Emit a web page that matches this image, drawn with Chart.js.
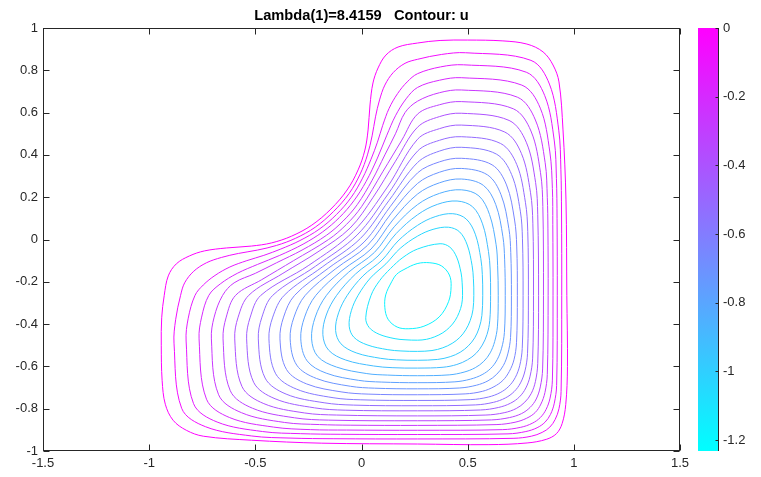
<!DOCTYPE html>
<html><head><meta charset="utf-8">
<script src="https://cdn.jsdelivr.net/npm/chart.js@4.4.0/dist/chart.umd.min.js"></script>
<style>
html,body{margin:0;padding:0;background:#fff;}
#wrap{position:relative;width:761px;height:477px;overflow:hidden;}
#main{position:absolute;left:0;top:0;}
#cb{position:absolute;left:671px;top:0;}
</style></head><body>
<div id="wrap"><canvas id="main" width="761" height="477"></canvas><canvas id="cb" width="90" height="477"></canvas></div>
<script>
const titleText = 'Lambda(1)=8.4159   Contour: u';
const xTickValues = [-1.5,-1,-0.5,0,0.5,1,1.5];
const xTickLabels = ['-1.5','-1','-0.5','0','0.5','1','1.5'];
const yTickValues = [-1,-0.8,-0.6,-0.4,-0.2,0,0.2,0.4,0.6,0.8,1];
const yTickLabels = ['-1','-0.8','-0.6','-0.4','-0.2','0','0.2','0.4','0.6','0.8','1'];
const cbTickValues = [0,-0.2,-0.4,-0.6,-0.8,-1,-1.2];
const cbTickLabels = ['0','-0.2','-0.4','-0.6','-0.8','-1','-1.2'];
const uMin = -1.232, uMax = 0;
const levels = [-1.167,-1.102,-1.037,-0.973,-0.908,-0.843,-0.778,-0.713,-0.648,-0.584,-0.519,-0.454,-0.389,-0.324,-0.259,-0.195,-0.130,-0.065,0];

const c01 = [[0.422,-0.223],[0.410,-0.294],[0.366,-0.366],[0.294,-0.410],[0.223,-0.422],[0.168,-0.414],[0.125,-0.377],[0.110,-0.322],[0.114,-0.262],[0.142,-0.200],[0.165,-0.165],[0.200,-0.142],[0.262,-0.114],[0.322,-0.110],[0.377,-0.125],[0.414,-0.168]];
const c02 = [[0.476,-0.264],[0.472,-0.306],[0.460,-0.345],[0.441,-0.383],[0.415,-0.415],[0.383,-0.441],[0.345,-0.460],[0.306,-0.472],[0.264,-0.476],[0.205,-0.474],[0.158,-0.469],[0.083,-0.448],[0.036,-0.416],[0.020,-0.370],[0.045,-0.264],[0.085,-0.195],[0.137,-0.137],[0.195,-0.085],[0.264,-0.045],[0.370,-0.020],[0.416,-0.036],[0.448,-0.083],[0.469,-0.158],[0.474,-0.205]];
const c03 = [[0.529,-0.264],[0.525,-0.332],[0.512,-0.383],[0.491,-0.427],[0.463,-0.463],[0.427,-0.491],[0.383,-0.512],[0.332,-0.525],[0.264,-0.529],[0.186,-0.527],[0.124,-0.521],[0.026,-0.498],[-0.036,-0.462],[-0.058,-0.410],[-0.048,-0.337],[-0.016,-0.264],[0.042,-0.182],[0.115,-0.115],[0.182,-0.042],[0.264,0.016],[0.337,0.048],[0.410,0.058],[0.462,0.036],[0.498,-0.026],[0.521,-0.124],[0.527,-0.186]];
const c04 = [[0.571,-0.264],[0.567,-0.359],[0.554,-0.418],[0.533,-0.465],[0.503,-0.503],[0.465,-0.533],[0.418,-0.554],[0.359,-0.567],[0.264,-0.571],[0.165,-0.569],[0.091,-0.562],[-0.025,-0.536],[-0.097,-0.493],[-0.122,-0.430],[-0.108,-0.347],[-0.067,-0.264],[0.007,-0.172],[0.097,-0.097],[0.172,-0.007],[0.264,0.067],[0.347,0.108],[0.430,0.122],[0.493,0.097],[0.536,0.025],[0.562,-0.091],[0.569,-0.165]];
const c05 = [[0.608,-0.264],[0.604,-0.384],[0.591,-0.449],[0.569,-0.499],[0.539,-0.539],[0.499,-0.569],[0.449,-0.591],[0.384,-0.604],[0.264,-0.608],[0.144,-0.606],[0.057,-0.598],[-0.074,-0.570],[-0.155,-0.523],[-0.182,-0.450],[-0.166,-0.357],[-0.117,-0.264],[-0.028,-0.163],[0.078,-0.078],[0.163,0.028],[0.264,0.117],[0.357,0.166],[0.450,0.182],[0.523,0.155],[0.570,0.074],[0.598,-0.057],[0.606,-0.144]];
const c06 = [[0.644,-0.264],[0.640,-0.413],[0.627,-0.483],[0.606,-0.536],[0.576,-0.576],[0.536,-0.606],[0.483,-0.627],[0.413,-0.640],[0.264,-0.644],[0.122,-0.641],[0.025,-0.634],[-0.118,-0.603],[-0.206,-0.553],[-0.235,-0.470],[-0.218,-0.367],[-0.165,-0.264],[-0.060,-0.154],[0.061,-0.061],[0.154,0.060],[0.264,0.165],[0.367,0.218],[0.470,0.235],[0.553,0.206],[0.603,0.118],[0.634,-0.025],[0.641,-0.122]];
const c07 = [[0.677,-0.264],[0.673,-0.440],[0.660,-0.514],[0.639,-0.568],[0.609,-0.609],[0.568,-0.639],[0.514,-0.660],[0.440,-0.673],[0.264,-0.677],[0.093,-0.674],[-0.013,-0.666],[-0.166,-0.632],[-0.256,-0.574],[-0.286,-0.470],[-0.268,-0.367],[-0.215,-0.264],[-0.092,-0.147],[0.045,-0.045],[0.147,0.092],[0.264,0.215],[0.367,0.268],[0.470,0.286],[0.574,0.256],[0.632,0.166],[0.666,0.013],[0.674,-0.093]];
const c08 = [[0.706,-0.264],[0.702,-0.463],[0.689,-0.541],[0.668,-0.596],[0.637,-0.637],[0.596,-0.668],[0.541,-0.689],[0.463,-0.702],[0.264,-0.706],[0.062,-0.703],[-0.052,-0.694],[-0.212,-0.657],[-0.305,-0.594],[-0.336,-0.470],[-0.318,-0.367],[-0.265,-0.264],[-0.124,-0.140],[0.028,-0.028],[0.140,0.124],[0.264,0.265],[0.367,0.318],[0.470,0.336],[0.594,0.305],[0.657,0.212],[0.694,0.052],[0.703,-0.062]];
const c09 = [[0.734,-0.264],[0.730,-0.488],[0.718,-0.569],[0.696,-0.624],[0.666,-0.666],[0.624,-0.696],[0.569,-0.718],[0.488,-0.730],[0.264,-0.734],[0.031,-0.731],[-0.092,-0.721],[-0.258,-0.683],[-0.353,-0.615],[-0.384,-0.470],[-0.367,-0.367],[-0.315,-0.264],[-0.155,-0.135],[0.012,-0.012],[0.135,0.155],[0.264,0.315],[0.367,0.367],[0.470,0.384],[0.615,0.353],[0.683,0.258],[0.721,0.092],[0.731,-0.031]];
const c10 = [[0.761,-0.264],[0.757,-0.515],[0.745,-0.597],[0.724,-0.653],[0.694,-0.694],[0.653,-0.724],[0.597,-0.745],[0.515,-0.757],[0.264,-0.761],[-0.003,-0.758],[-0.134,-0.748],[-0.307,-0.707],[-0.404,-0.635],[-0.436,-0.470],[-0.418,-0.367],[-0.364,-0.264],[-0.185,-0.130],[-0.005,0.005],[0.130,0.185],[0.264,0.364],[0.367,0.418],[0.470,0.436],[0.635,0.404],[0.707,0.307],[0.748,0.134],[0.758,0.003]];
const c11 = [[0.786,-0.264],[0.782,-0.538],[0.770,-0.621],[0.749,-0.678],[0.719,-0.719],[0.678,-0.749],[0.621,-0.770],[0.538,-0.782],[0.264,-0.786],[-0.038,-0.783],[-0.176,-0.772],[-0.355,-0.731],[-0.454,-0.655],[-0.486,-0.470],[-0.469,-0.367],[-0.418,-0.264],[-0.216,-0.126],[-0.021,0.021],[0.126,0.216],[0.264,0.418],[0.367,0.469],[0.470,0.486],[0.655,0.454],[0.731,0.355],[0.772,0.176],[0.783,0.038]];
const c12 = [[0.810,-0.264],[0.806,-0.561],[0.794,-0.646],[0.774,-0.702],[0.744,-0.744],[0.702,-0.774],[0.646,-0.794],[0.561,-0.806],[0.264,-0.810],[-0.077,-0.807],[-0.221,-0.796],[-0.407,-0.753],[-0.508,-0.675],[-0.541,-0.470],[-0.524,-0.367],[-0.474,-0.264],[-0.248,-0.122],[-0.038,0.038],[0.122,0.248],[0.264,0.474],[0.367,0.524],[0.470,0.541],[0.675,0.508],[0.753,0.407],[0.796,0.221],[0.807,0.077]];
const c13 = [[0.834,-0.264],[0.830,-0.586],[0.819,-0.672],[0.799,-0.729],[0.769,-0.769],[0.729,-0.799],[0.672,-0.819],[0.586,-0.830],[0.264,-0.834],[-0.117,-0.830],[-0.269,-0.820],[-0.460,-0.776],[-0.563,-0.695],[-0.597,-0.470],[-0.581,-0.367],[-0.531,-0.264],[-0.370,-0.160],[-0.200,-0.055],[-0.054,0.054],[0.055,0.200],[0.160,0.370],[0.264,0.531],[0.367,0.581],[0.470,0.597],[0.695,0.563],[0.776,0.460],[0.820,0.269],[0.830,0.117]];
const c14 = [[0.857,-0.264],[0.853,-0.612],[0.842,-0.697],[0.823,-0.754],[0.794,-0.794],[0.754,-0.823],[0.697,-0.842],[0.612,-0.853],[0.264,-0.857],[-0.156,-0.854],[-0.316,-0.843],[-0.513,-0.798],[-0.618,-0.715],[-0.652,-0.470],[-0.637,-0.367],[-0.593,-0.264],[-0.470,-0.190],[-0.320,-0.100],[-0.155,0.000],[-0.071,0.071],[0.000,0.155],[0.100,0.320],[0.190,0.470],[0.264,0.593],[0.367,0.637],[0.470,0.652],[0.715,0.618],[0.798,0.513],[0.843,0.316],[0.854,0.156]];
const c15 = [[0.879,-0.264],[0.875,-0.638],[0.864,-0.723],[0.845,-0.778],[0.818,-0.818],[0.778,-0.845],[0.723,-0.864],[0.638,-0.875],[0.264,-0.879],[-0.050,-0.878],[-0.198,-0.875],[-0.363,-0.865],[-0.565,-0.819],[-0.673,-0.734],[-0.707,-0.470],[-0.694,-0.367],[-0.654,-0.264],[-0.600,-0.205],[-0.500,-0.160],[-0.400,-0.110],[-0.280,-0.050],[-0.165,0.020],[-0.087,0.087],[-0.020,0.165],[0.050,0.280],[0.110,0.400],[0.160,0.500],[0.205,0.600],[0.264,0.654],[0.367,0.694],[0.470,0.707],[0.734,0.673],[0.819,0.565],[0.865,0.363],[0.875,0.198],[0.878,0.050]];
const c16 = [[0.902,-0.264],[0.899,-0.665],[0.888,-0.750],[0.869,-0.804],[0.842,-0.842],[0.804,-0.869],[0.750,-0.888],[0.665,-0.899],[0.264,-0.902],[-0.070,-0.901],[-0.241,-0.899],[-0.414,-0.887],[-0.621,-0.842],[-0.730,-0.755],[-0.765,-0.470],[-0.753,-0.367],[-0.719,-0.264],[-0.665,-0.210],[-0.585,-0.160],[-0.490,-0.118],[-0.385,-0.075],[-0.275,-0.022],[-0.183,0.036],[-0.104,0.104],[-0.036,0.183],[0.022,0.275],[0.075,0.385],[0.118,0.490],[0.160,0.585],[0.210,0.665],[0.264,0.719],[0.367,0.753],[0.470,0.765],[0.755,0.730],[0.842,0.621],[0.887,0.414],[0.899,0.241],[0.901,0.070]];
const c17 = [[0.922,-0.264],[0.919,-0.690],[0.908,-0.774],[0.890,-0.827],[0.864,-0.864],[0.827,-0.890],[0.774,-0.908],[0.690,-0.919],[0.264,-0.922],[-0.100,-0.921],[-0.288,-0.918],[-0.466,-0.908],[-0.680,-0.863],[-0.791,-0.776],[-0.826,-0.480],[-0.816,-0.372],[-0.784,-0.264],[-0.745,-0.215],[-0.690,-0.170],[-0.620,-0.130],[-0.540,-0.100],[-0.460,-0.075],[-0.380,-0.045],[-0.290,-0.005],[-0.200,0.048],[-0.118,0.118],[-0.048,0.200],[0.005,0.290],[0.045,0.380],[0.075,0.460],[0.100,0.540],[0.130,0.620],[0.170,0.690],[0.215,0.745],[0.264,0.784],[0.372,0.816],[0.480,0.826],[0.776,0.791],[0.863,0.680],[0.908,0.466],[0.918,0.288],[0.921,0.100]];
const c18 = [[0.943,-0.264],[0.940,-0.718],[0.930,-0.800],[0.912,-0.851],[0.887,-0.887],[0.851,-0.912],[0.800,-0.930],[0.718,-0.940],[0.264,-0.943],[-0.130,-0.942],[-0.332,-0.939],[-0.517,-0.929],[-0.735,-0.885],[-0.847,-0.798],[-0.883,-0.490],[-0.875,-0.377],[-0.852,-0.264],[-0.833,-0.205],[-0.790,-0.150],[-0.730,-0.110],[-0.660,-0.085],[-0.580,-0.066],[-0.490,-0.050],[-0.400,-0.028],[-0.310,0.006],[-0.218,0.058],[-0.132,0.132],[-0.058,0.218],[-0.006,0.310],[0.028,0.400],[0.050,0.490],[0.066,0.580],[0.085,0.660],[0.110,0.730],[0.150,0.790],[0.205,0.833],[0.264,0.852],[0.377,0.875],[0.490,0.883],[0.798,0.847],[0.885,0.735],[0.929,0.517],[0.939,0.332],[0.942,0.130]];
const c19 = [[0.967,-0.264],[0.970,-0.600],[0.962,-0.780],[0.945,-0.870],[0.918,-0.918],[0.870,-0.945],[0.780,-0.962],[0.600,-0.970],[0.264,-0.967],[-0.187,-0.963],[-0.518,-0.949],[-0.745,-0.930],[-0.825,-0.902],[-0.887,-0.855],[-0.924,-0.779],[-0.939,-0.666],[-0.943,-0.500],[-0.941,-0.370],[-0.929,-0.264],[-0.910,-0.172],[-0.872,-0.115],[-0.811,-0.078],[-0.740,-0.054],[-0.636,-0.040],[-0.518,-0.031],[-0.423,-0.016],[-0.329,0.016],[-0.234,0.068],[-0.144,0.144],[-0.068,0.234],[-0.016,0.329],[0.016,0.423],[0.031,0.518],[0.040,0.636],[0.054,0.740],[0.078,0.811],[0.115,0.872],[0.172,0.910],[0.264,0.929],[0.370,0.941],[0.500,0.943],[0.666,0.939],[0.779,0.924],[0.855,0.887],[0.902,0.825],[0.930,0.745],[0.949,0.518],[0.963,0.187]];
const contours = [c01,c02,c03,c04,c05,c06,c07,c08,c09,c10,c11,c12,c13,c14,c15,c16,c17,c18,c19];

const FONT = "'Liberation Sans', Arial, sans-serif";
const AXIS = '#262626';
function levelColor(v){
  const t = (v - uMin) / (uMax - uMin);
  return 'rgb(' + Math.round(255*t) + ',' + Math.round(255*(1-t)) + ',255)';
}

// close each contour as a smooth loop (same mechanism the radar controller uses)
const loopPlugin = {
  id: 'closeLoops',
  afterDatasetsUpdate(chart){
    chart.data.datasets.forEach((d, i) => {
      const el = chart.getDatasetMeta(i).dataset;
      if (el) {
        el._loop = true; el._fullLoop = true; el._pointsUpdated = false;
        delete el._segments; delete el._path;
      }
    });
  }
};

const framePlugin = {
  id: 'frame',
  afterDraw(chart){
    const ctx = chart.ctx, a = chart.chartArea;
    const L = Math.round(a.left)+0.5, R = Math.round(a.right)-0.5, T = Math.round(a.top)+0.5, B = Math.round(a.bottom)-0.5;
    ctx.save();
    ctx.strokeStyle = AXIS; ctx.lineWidth = 1;
    ctx.strokeRect(L, T, R-L, B-T);
    const tl = 6;
    ctx.beginPath();
    chart.scales.x.ticks.forEach(t => {
      const px = Math.round(chart.scales.x.getPixelForValue(t.value)) + 0.5;
      ctx.moveTo(px, B); ctx.lineTo(px, B - tl);
      ctx.moveTo(px, T); ctx.lineTo(px, T + tl);
    });
    chart.scales.y.ticks.forEach(t => {
      const py = Math.round(chart.scales.y.getPixelForValue(t.value)) + 0.5;
      ctx.moveTo(L, py); ctx.lineTo(L + tl, py);
      ctx.moveTo(R, py); ctx.lineTo(R - tl, py);
    });
    ctx.stroke();
    ctx.fillStyle = '#000';
    ctx.font = 'bold 14.67px ' + FONT;
    ctx.textAlign = 'center'; ctx.textBaseline = 'alphabetic';
    ctx.fillText(titleText, (a.left + a.right)/2, 19.5);
    ctx.restore();
  }
};

new Chart(document.getElementById('main'), {
  type: 'scatter',
  data: { datasets: contours.map((pts, i) => ({
    data: pts.map(p => ({x: p[0], y: p[1]})),
    showLine: true, borderColor: levelColor(levels[i]), borderWidth: 1,
    pointRadius: 0, tension: 0.35, fill: false
  }))},
  options: {
    responsive: false, animation: false, devicePixelRatio: 1,
    layout: {padding: {left: 0, right: 81, top: 28, bottom: 0}},
    plugins: {legend: {display: false}, tooltip: {enabled: false}, title: {display: false}},
    scales: {
      x: {type: 'linear', min: -1.5, max: 1.5,
        afterFit(s){ s.height = 26; },
        afterBuildTicks(s){ s.ticks = xTickValues.map(v => ({value: v})); },
        ticks: {callback: (v, i) => xTickLabels[i], font: {family: FONT, size: 13}, color: AXIS, padding: 5, maxRotation: 0, autoSkip: false},
        grid: {display: false, drawTicks: false}, border: {display: false}},
      y: {type: 'linear', min: -1, max: 1,
        afterFit(s){ s.width = 43; },
        afterBuildTicks(s){ s.ticks = yTickValues.map(v => ({value: v})); },
        ticks: {callback: (v, i) => yTickLabels[i], font: {family: FONT, size: 13}, color: AXIS, padding: 5, autoSkip: false},
        grid: {display: false, drawTicks: false}, border: {display: false}}
    }
  },
  plugins: [loopPlugin, framePlugin]
});

const cbPlugin = {
  id: 'cbframe',
  afterDraw(chart){
    const ctx = chart.ctx, a = chart.chartArea;
    const R = Math.round(a.right) - 0.5;
    ctx.save();
    ctx.strokeStyle = AXIS; ctx.lineWidth = 1;
    ctx.beginPath();
    ctx.moveTo(R, a.top); ctx.lineTo(R, a.bottom);
    chart.scales.y.ticks.forEach(t => {
      const py = Math.round(chart.scales.y.getPixelForValue(t.value)) + 0.5;
      ctx.moveTo(R, py); ctx.lineTo(R - 3, py);
    });
    ctx.stroke();
    ctx.restore();
  }
};

new Chart(document.getElementById('cb'), {
  type: 'bar',
  data: { labels: ['u'], datasets: [{
    data: [[uMin, uMax]],
    backgroundColor: (c) => {
      const a = c.chart.chartArea;
      if (!a) return 'rgb(128,128,255)';
      const g = c.chart.ctx.createLinearGradient(0, a.bottom, 0, a.top);
      g.addColorStop(0, levelColor(uMin));
      g.addColorStop(1, levelColor(uMax));
      return g;
    },
    borderWidth: 0, barPercentage: 1, categoryPercentage: 1
  }]},
  options: {
    responsive: false, animation: false, devicePixelRatio: 1,
    layout: {padding: {left: 27, right: 0, top: 28, bottom: 26}},
    plugins: {legend: {display: false}, tooltip: {enabled: false}},
    scales: {
      x: {display: false},
      y: {type: 'linear', position: 'right', min: uMin, max: uMax,
        afterFit(s){ s.width = 42; },
        afterBuildTicks(s){ s.ticks = cbTickValues.map(v => ({value: v})); },
        ticks: {callback: (v, i) => cbTickLabels[i], font: {family: FONT, size: 13}, color: AXIS, padding: 4, autoSkip: false},
        grid: {display: false, drawTicks: false}, border: {display: false}}
    }
  },
  plugins: [cbPlugin]
});
</script>
</body></html>
